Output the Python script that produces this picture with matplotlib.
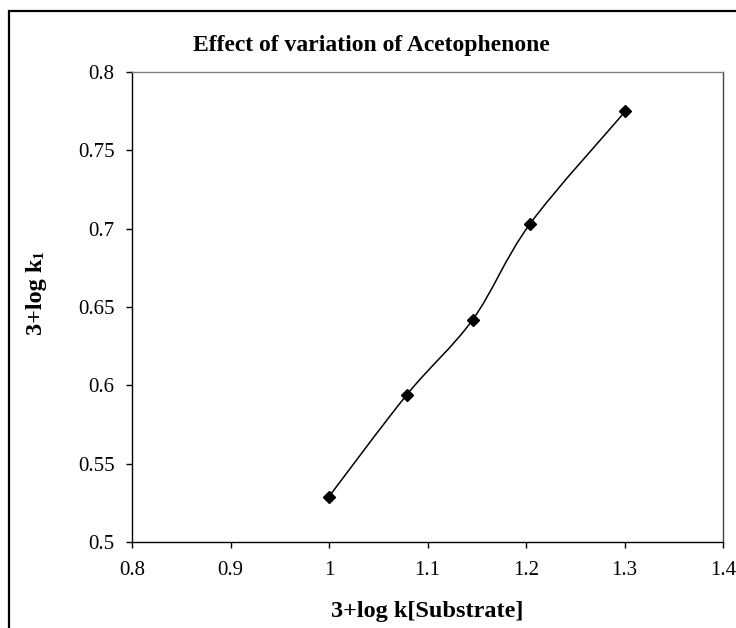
import matplotlib
matplotlib.use("Agg")
import matplotlib.pyplot as plt
from matplotlib.patches import Rectangle, PathPatch
from matplotlib.path import Path
import numpy as np

# ---- data ----
x_values = [1.000, 1.079, 1.146, 1.204, 1.301]
y_values = [0.529, 0.594, 0.642, 0.703, 0.775]
x_ticks = [0.8, 0.9, 1.0, 1.1, 1.2, 1.3, 1.4]
x_tick_labels = ["0.8", "0.9", "1", "1.1", "1.2", "1.3", "1.4"]
y_ticks = [0.5, 0.55, 0.6, 0.65, 0.7, 0.75, 0.8]
y_tick_labels = ["0.5", "0.55", "0.6", "0.65", "0.7", "0.75", "0.8"]
title = "Effect of variation of Acetophenone"
x_label = "3+log k[Substrate]"
y_label = "3+log k"
y_label_sub = "1"

plt.rcParams['font.family'] = ['Liberation Serif', 'DejaVu Serif']

W, H = 736, 628
fig = plt.figure(figsize=(W / 100, H / 100), dpi=100)
fig.patch.set_facecolor('white')

# outer chart-area border (extends past the right/bottom edge of the image)
fig.patches.append(Rectangle((9 / W, -0.2), 1.2, 1 - 11 / H + 0.2,
                             transform=fig.transFigure, fill=False,
                             lw=1.6, ec='black', zorder=0))

ax = fig.add_axes([132 / W, 1 - 542 / H, (723 - 132) / W, (542 - 72) / H])
ax.set_xlim(x_ticks[0], x_ticks[-1])
ax.set_ylim(y_ticks[0], y_ticks[-1])
ax.set_xticks(x_ticks)
ax.set_xticklabels(x_tick_labels)
ax.set_yticks(y_ticks)
ax.set_yticklabels(y_tick_labels)
ax.tick_params(axis='both', direction='out', length=4.5, width=1,
               labelsize=15, color='black')
ax.tick_params(axis='x', pad=9.5)
ax.tick_params(axis='y', pad=8)

for s in ['left', 'bottom']:
    ax.spines[s].set_color('black')
    ax.spines[s].set_linewidth(1.0)
ax.spines['top'].set_color('#808080')
ax.spines['top'].set_linewidth(1.0)
ax.spines['right'].set_color('#444444')
ax.spines['right'].set_linewidth(1.0)

# smoothed line (Catmull-Rom style Bezier through the data points, as in Excel)
pts = np.column_stack([x_values, y_values])
n = len(pts)
verts = [tuple(pts[0])]
codes = [Path.MOVETO]
for i in range(n - 1):
    p0 = pts[max(i - 1, 0)]
    p1 = pts[i]
    p2 = pts[i + 1]
    p3 = pts[min(i + 2, n - 1)]
    c1 = p1 + (p2 - p0) / 6.0
    c2 = p2 - (p3 - p1) / 6.0
    verts += [tuple(c1), tuple(c2), tuple(p2)]
    codes += [Path.CURVE4, Path.CURVE4, Path.CURVE4]
ax.add_patch(PathPatch(Path(verts, codes), fill=False, ec='black', lw=1.1, zorder=2))

ax.plot(x_values, y_values, linestyle='none', marker='D', markersize=6.5,
        color='black', zorder=3)

# titles
fig.text(371 / W, 1 - 46 / H, title, ha='center', va='center',
         fontsize=17, fontweight='bold')
ax.set_xlabel(x_label, fontsize=17.5, fontweight='bold', va='center')
ax.xaxis.set_label_coords(0.5, (542 - 612) / (542 - 72))
ax.set_ylabel(y_label, fontsize=17.5, fontweight='bold')
ax.yaxis.set_label_coords((47 - 132) / (723 - 132), (542 - 297) / (542 - 72))
ax.annotate(y_label_sub, xy=(1, 1), xycoords=ax.yaxis.label,
            xytext=(-1.2, 0.5), textcoords='offset points',
            ha='right', va='bottom', rotation=90,
            fontsize=11, fontweight='bold', annotation_clip=False)

fig.savefig('out.png', dpi=100)
